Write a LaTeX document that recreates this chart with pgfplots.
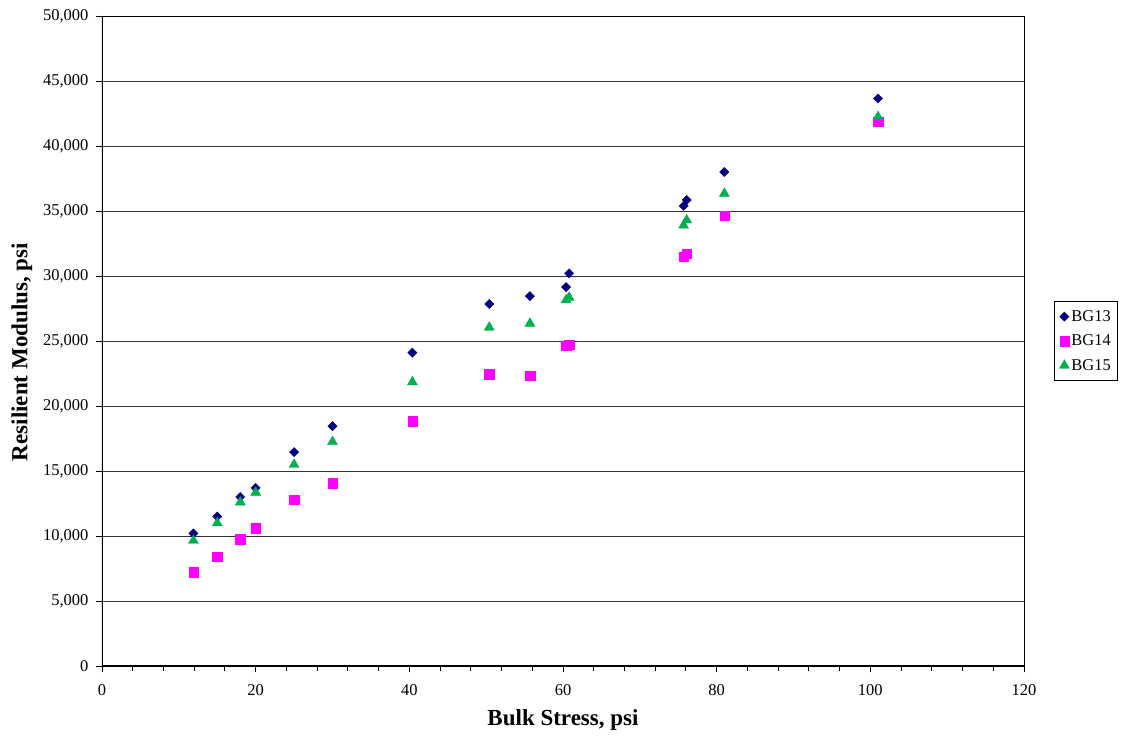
\documentclass[border=0pt]{standalone}
\usepackage{pgfplots}
\pgfplotsset{compat=1.18}
\usepackage{fontspec}
\setmainfont{Liberation Serif}
\definecolor{bgnavy}{RGB}{0,0,128}
\definecolor{bgmag}{RGB}{255,0,255}
\definecolor{bggreen}{RGB}{0,176,80}
\begin{document}
\begin{tikzpicture}
\useasboundingbox (-102pt,-70pt) rectangle (1021pt,666pt);
\begin{axis}[
  scale only axis,
  width=922pt, height=650pt,
  xmin=0, xmax=120, ymin=0, ymax=50000,
  xtick={0,20,...,120},
  ytick={0,5000,...,50000},
  minor x tick num=4,
  scaled ticks=false,
  /pgf/number format/.cd, 1000 sep={,}, assume math mode=true,
  /pgfplots/.cd,
  ymajorgrids,
  major grid style={black!80, line width=0.8pt},
  axis line style={black, line width=0.9pt},
  tick style={black, line width=0.9pt},
  tick align=outside,
  major tick length=6pt,
  minor tick length=5pt,
  xtick pos=bottom, ytick pos=left,
  ticklabel style={font=\fontsize{16.5}{19}\selectfont},
  xticklabel style={yshift=-9pt},
  yticklabel style={xshift=-4pt},
  xlabel={Bulk Stress, psi},
  ylabel={Resilient Modulus, psi},
  label style={font=\fontsize{23}{27}\selectfont\bfseries},
  xlabel style={at={(axis description cs:0.5,-0.083)}, anchor=center},
  ylabel style={at={(axis description cs:-0.087,0.483)}, anchor=center},
  legend style={at={(1.0325,0.5)}, anchor=west, draw=black, line width=0.8pt,
    font=\fontsize{16.5}{19}\selectfont, row sep=8pt, inner xsep=5pt, inner ysep=7pt,
    legend cell align=left},
  legend image code/.code={\draw[#1] plot coordinates {(0.2cm,0cm)};},
]
\addplot[only marks, mark=square*, mark size=3.3pt, color=bgnavy, mark options={rotate=45, line width=0.3pt}] coordinates {
(11.9,10200) (15,11500) (18,13000) (20,13700) (25,16450) (30,18450) (40.4,24100) (50.4,27850) (55.7,28450) (60.4,29150) (60.8,30200) (75.7,35400) (76.1,35850) (81,38000) (101,43650)
};
\addlegendentry{BG13}
\addplot[only marks, mark=square*, mark size=4.7pt, color=bgmag, mark options={line width=0.3pt}] coordinates {
(11.9,7230) (15,8400) (18,9750) (20,10600) (25,12800) (30,14080) (40.4,18850) (50.4,22450) (55.7,22350) (60.4,24650) (60.8,24700) (75.7,31500) (76.1,31700) (81,34650) (101,41850)
};
\addlegendentry{BG14}
\addplot[only marks, mark=triangle*, mark size=5.8pt, color=bggreen, mark options={line width=0.3pt}] coordinates {
(11.9,9650) (15,11000) (18,12600) (20,13350) (25,15500) (30,17250) (40.4,21850) (50.4,26050) (55.7,26350) (60.4,28150) (60.8,28350) (75.7,33900) (76.1,34300) (81,36350) (101,42250)
};
\addlegendentry{BG15}
\draw[black, line width=2pt] (rel axis cs:0,1) -- (rel axis cs:0,0) -- (rel axis cs:1,0);
\end{axis}
\end{tikzpicture}
\end{document}
